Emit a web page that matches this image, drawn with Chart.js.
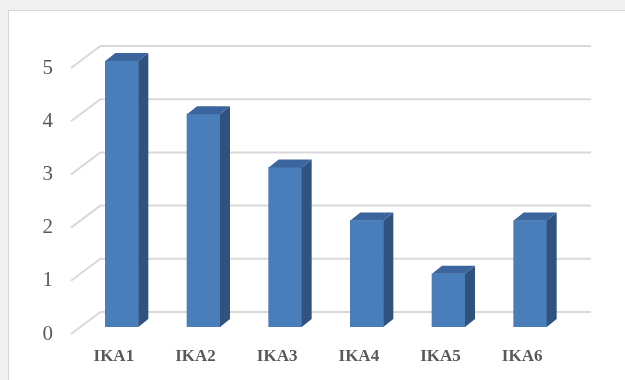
<!DOCTYPE html>
<html>
<head>
<meta charset="utf-8">
<script src="https://cdn.jsdelivr.net/npm/chart.js@4.4.1/dist/chart.umd.min.js"></script>
<style>
  html, body { margin: 0; padding: 0; background: #f0f0f0; }
  #wrap { width: 625px; height: 380px; position: relative; }
</style>
</head>
<body>
<div id="wrap"><canvas id="c" width="625" height="380"></canvas></div>
<script>
const categories = ['IKA1', 'IKA2', 'IKA3', 'IKA4', 'IKA5', 'IKA6'];
const values = [5, 4, 3, 2, 1, 2];
const yTicks = [0, 1, 2, 3, 4, 5];

const DX = 10, DY = 8;

const bgPlugin = {
  id: 'bg',
  beforeDraw(chart) {
    const ctx = chart.ctx;
    ctx.save();
    ctx.fillStyle = '#f0f0f0';
    ctx.fillRect(0, 0, chart.width, chart.height);
    ctx.fillStyle = '#ffffff';
    ctx.fillRect(8, 10, chart.width - 8, chart.height - 10);
    ctx.strokeStyle = '#d6d6d6';
    ctx.lineWidth = 1;
    ctx.beginPath();
    ctx.moveTo(8.5, chart.height);
    ctx.lineTo(8.5, 10.5);
    ctx.lineTo(chart.width, 10.5);
    ctx.stroke();
    ctx.restore();
  },
  beforeDatasetsDraw(chart) {
    const ctx = chart.ctx;
    const ys = chart.scales.y;
    const area = chart.chartArea;
    ctx.save();
    ctx.strokeStyle = '#d9d9d9';
    ctx.lineWidth = 2;
    yTicks.forEach(v => {
      const y = ys.getPixelForValue(v);
      ctx.beginPath();
      ctx.moveTo(area.left - 10, y + 7);
      ctx.lineTo(area.left + 19.4, y - 15);
      ctx.lineTo(area.right + 20, y - 15);
      ctx.stroke();
    });
    ctx.restore();
  },
  afterDatasetsDraw(chart) {
    const ctx = chart.ctx;
    const meta = chart.getDatasetMeta(0);
    ctx.save();
    meta.data.forEach(bar => {
      const p = bar.getProps(['x', 'y', 'base', 'width'], true);
      const l = p.x - p.width / 2, r = p.x + p.width / 2;
      // side face
      ctx.fillStyle = '#30527f';
      ctx.beginPath();
      ctx.moveTo(r, p.y);
      ctx.lineTo(r + DX, p.y - DY);
      ctx.lineTo(r + DX, p.base - DY);
      ctx.lineTo(r, p.base);
      ctx.closePath();
      ctx.fill();
      // top face
      ctx.fillStyle = '#3b659c';
      ctx.beginPath();
      ctx.moveTo(l, p.y);
      ctx.lineTo(l + DX, p.y - DY);
      ctx.lineTo(r + DX, p.y - DY);
      ctx.lineTo(r, p.y);
      ctx.closePath();
      ctx.fill();
    });
    ctx.restore();
  }
};

new Chart(document.getElementById('c'), {
  type: 'bar',
  data: {
    labels: categories,
    datasets: [{
      data: values,
      backgroundColor: '#4a7ebb',
      borderWidth: 0,
      barThickness: 33
    }]
  },
  options: {
    responsive: false,
    animation: false,
    devicePixelRatio: 1,
    layout: { padding: { left: 0, right: 54, top: 61, bottom: 0 } },
    plugins: { legend: { display: false }, tooltip: { enabled: false }, title: { display: false } },
    scales: {
      x: {
        grid: { display: false, drawTicks: false },
        border: { display: false },
        afterFit(scale) { scale.height = 53; },
        ticks: {
          color: '#595959',
          font: { family: 'Liberation Serif', size: 17, weight: 'bold' },
          labelOffset: -8,
          padding: 19,
          maxRotation: 0
        }
      },
      y: {
        min: 0, max: 5,
        afterFit(scale) { scale.width = 81; },
        grid: { display: false, drawTicks: false },
        border: { display: false },
        afterBuildTicks(scale) { scale.ticks = yTicks.map(v => ({ value: v })); },
        ticks: {
          color: '#595959',
          font: { family: 'Liberation Serif', size: 21 },
          labelOffset: 7,
          padding: 28
        }
      }
    }
  },
  plugins: [bgPlugin]
});
</script>
</body>
</html>
